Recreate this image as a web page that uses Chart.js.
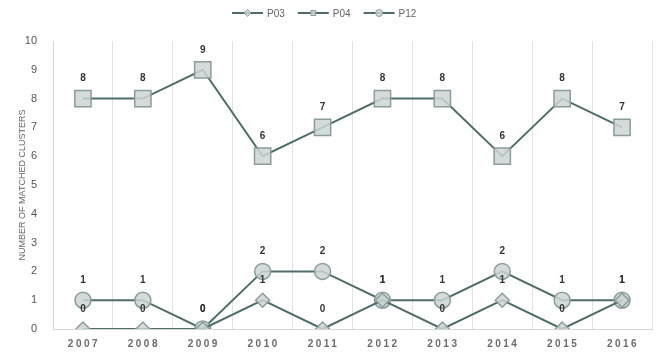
<!DOCTYPE html>
<html>
<head>
<meta charset="utf-8">
<script src="https://cdn.jsdelivr.net/npm/chart.js@4/dist/chart.umd.min.js"></script>
<style>
  html, body { margin: 0; padding: 0; background: #fff; }
  #wrap { width: 672px; height: 357px; position: relative; }
</style>
</head>
<body>
<div id="wrap"><canvas id="grafico"></canvas></div>
<script>
// dados do gráfico
const anos = ['2007', '2008', '2009', '2010', '2011', '2012', '2013', '2014', '2015', '2016'];
const p03 = [0, 0, 0, 1, 0, 1, 0, 1, 0, 1];
const p04 = [8, 8, 9, 6, 7, 8, 8, 6, 8, 7];
const p12 = [1, 1, 0, 2, 2, 1, 1, 2, 1, 1];
const yTicks = [0, 1, 2, 3, 4, 5, 6, 7, 8, 9, 10];

const LINHA = '#4f6c68';
const MARCADOR = 'rgba(205, 213, 212, 0.85)';
const BORDA_MARC = '#8c9c9a';

// rótulos de valor acima de cada ponto
const rotulos = {
  id: 'rotulos',
  afterDatasetsDraw(chart) {
    const ctx = chart.ctx;
    ctx.save();
    ctx.font = 'bold 10px "Liberation Sans", Arial, sans-serif';
    ctx.fillStyle = '#333';
    ctx.textAlign = 'center';
    ctx.textBaseline = 'middle';
    chart.data.datasets.forEach((ds, i) => {
      const meta = chart.getDatasetMeta(i);
      meta.data.forEach((pt, j) => {
        ctx.fillText(String(ds.data[j]), pt.x, pt.y - 20);
      });
    });
    ctx.restore();
  }
};

// anos no eixo x com espaçamento entre letras
const eixoX = {
  id: 'eixoX',
  afterDraw(chart) {
    const ctx = chart.ctx;
    const x = chart.scales.x;
    ctx.save();
    ctx.font = 'bold 10px "Liberation Sans", Arial, sans-serif';
    ctx.fillStyle = '#6b6b6b';
    ctx.textAlign = 'center';
    ctx.textBaseline = 'middle';
    ctx.letterSpacing = '2.5px';
    anos.forEach((a, i) => {
      ctx.fillText(a, x.getPixelForValue(i) + 1, chart.chartArea.bottom + 15);
    });
    ctx.restore();
  }
};

// legenda com linha + marcador
const legenda = {
  id: 'legenda',
  afterDraw(chart) {
    const ctx = chart.ctx;
    ctx.save();
    ctx.font = '10px "Liberation Sans", Arial, sans-serif';
    const y = 13;
    let x = 232;
    chart.data.datasets.forEach(ds => {
      ctx.strokeStyle = LINHA;
      ctx.lineWidth = 2;
      ctx.beginPath();
      ctx.moveTo(x, y);
      ctx.lineTo(x + 31, y);
      ctx.stroke();
      ctx.fillStyle = MARCADOR;
      ctx.strokeStyle = BORDA_MARC;
      ctx.lineWidth = 1;
      Chart.helpers.drawPoint(ctx, { pointStyle: ds.pointStyle, radius: 3.5, rotation: 0, borderWidth: 1 }, x + 15.5, y);
      ctx.fillStyle = '#666';
      ctx.textBaseline = 'middle';
      ctx.fillText(ds.label, x + 35, y + 1);
      x += 35 + ctx.measureText(ds.label).width + 13;
    });
    ctx.restore();
  }
};

function serie(label, data, estilo, raio) {
  return {
    label,
    data,
    borderColor: LINHA,
    borderWidth: 2,
    pointStyle: estilo,
    pointRadius: raio,
    pointBackgroundColor: MARCADOR,
    pointBorderColor: BORDA_MARC,
    pointBorderWidth: 1.5,
    tension: 0
  };
}

new Chart(document.getElementById('grafico'), {
  type: 'line',
  data: {
    labels: anos,
    datasets: [
      serie('P03', p03, 'rectRot', 7),
      serie('P04', p04, 'rect', 11.5),
      serie('P12', p12, 'circle', 8)
    ]
  },
  options: {
    responsive: true,
    maintainAspectRatio: false,
    animation: false,
    layout: { padding: { top: 41, right: 20, bottom: 0, left: 0 } },
    plugins: { legend: { display: false }, tooltip: { enabled: false } },
    scales: {
      x: {
        type: 'category',
        offset: true,
        grid: { display: true, offset: true, color: '#e2e2e2', drawTicks: false },
        border: { color: '#d6d6d6' },
        ticks: { display: false },
        afterFit: s => { s.height = 28; }
      },
      y: {
        min: 0,
        max: 10,
        afterBuildTicks: s => { s.ticks = yTicks.map(v => ({ value: v })); },
        grid: { display: false, drawTicks: false },
        border: { display: true, color: '#d6d6d6' },
        ticks: {
          padding: 16,
          color: '#555',
          font: { size: 11, family: '"Liberation Sans", Arial, sans-serif' }
        },
        title: {
          display: true,
          text: 'NUMBER OF MATCHED CLUSTERS',
          color: '#666',
          padding: { top: 17, bottom: 0 },
          font: { size: 9, family: '"Liberation Sans", Arial, sans-serif' }
        },
        afterFit: s => { s.width = 53; }
      }
    }
  },
  plugins: [rotulos, eixoX, legenda]
});
</script>
</body>
</html>
